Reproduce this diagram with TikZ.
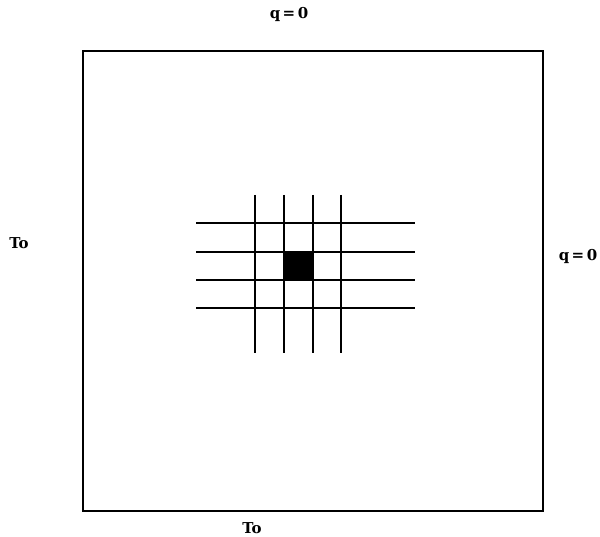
\documentclass[tikz,border=0pt]{standalone}
\usepackage{fontspec}
\setmainfont{DejaVu Serif}
\begin{document}
\begin{tikzpicture}[x=1pt,y=-1pt,
  lbl/.style={font=\bfseries\fontsize{15}{15}\selectfont,inner sep=0pt},
  gridln/.style={line width=2.6pt},
  frame/.style={line width=2.2pt}]
\useasboundingbox (0,0) rectangle (600,537);
\node[draw,frame,minimum width=460pt,minimum height=460pt,inner sep=0pt] (box) at (313,281) {};
\foreach \x [count=\i] in {255,284,313,341}{
  \coordinate (vt\i) at (\x,195);
  \coordinate (vb\i) at (\x,353);
  \draw[gridln] (vt\i) -- (vb\i);
}
\foreach \y [count=\i] in {223,252,280,308}{
  \coordinate (hl\i) at (196,\y);
  \coordinate (hr\i) at (415,\y);
  \draw[gridln] (hl\i) -- (hr\i);
}
\node[fill=black,minimum width=29pt,minimum height=28pt,inner sep=0pt] (cell) at (298.5,266) {};
\node[lbl] (top) at (289,14) {q\,=\,0};
\node[lbl] (right) at (578,256) {q\,=\,0};
\node[lbl] (left) at (19,243) {To};
\node[lbl] (bottom) at (252,528) {To};
\end{tikzpicture}
\end{document}
